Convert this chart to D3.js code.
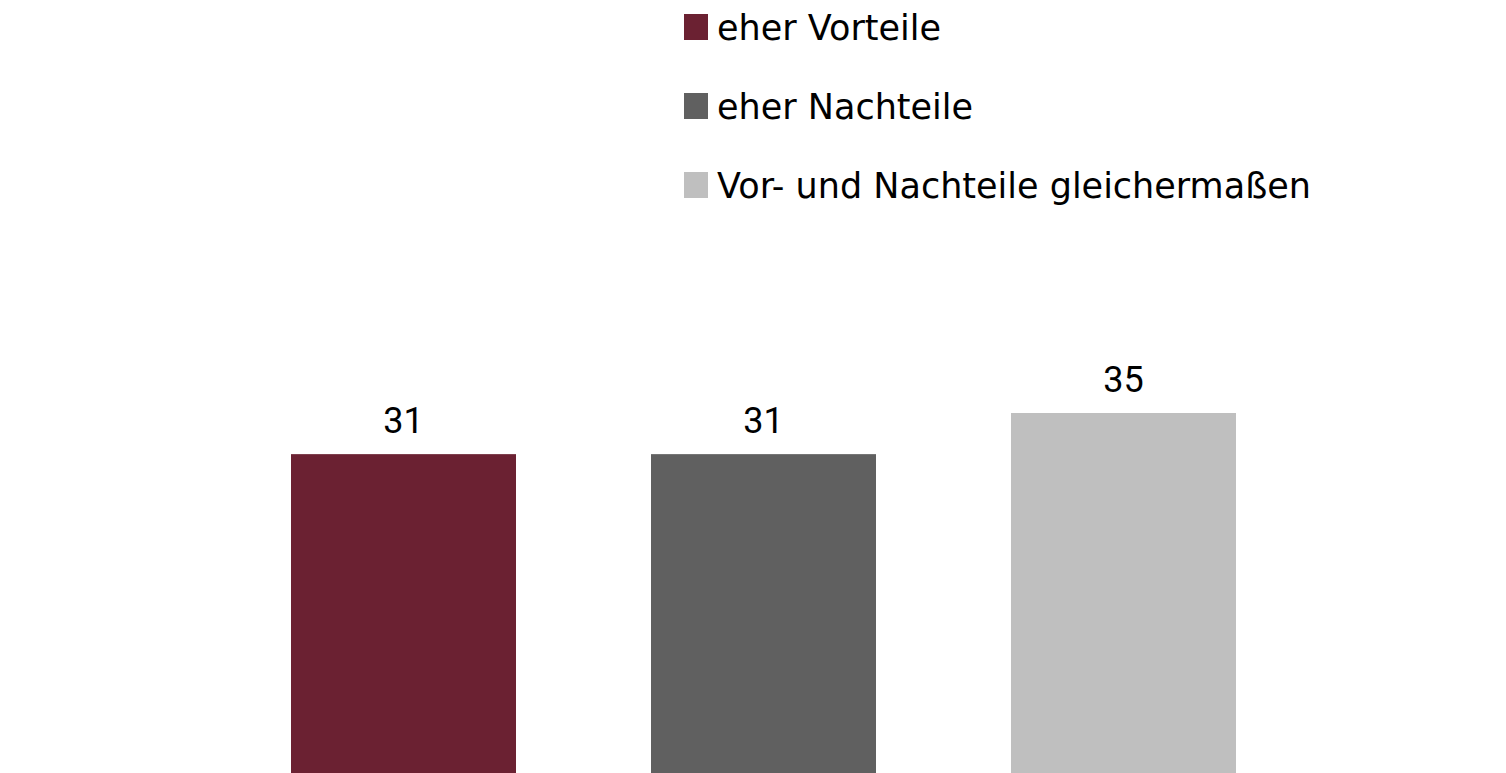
<!DOCTYPE html>
<html>
<head>
<meta charset="utf-8">
<script src="https://cdn.jsdelivr.net/npm/d3@7"></script>
<style>
  html, body { margin: 0; padding: 0; background: #fff; }
  svg { display: block; }
</style>
</head>
<body>
<div id="chart"></div>
<script>
const categories = ["eher Vorteile", "eher Nachteile", "Vor- und Nachteile gleichermaßen"];
const values = [31, 31, 35];
const colors = ["#6b2132", "#606060", "#bfbfbf"];

const width = 1506;
const height = 773;

const svg = d3.select('#chart')
  .append('svg')
  .attr('width', width)
  .attr('height', height);

// Scales
const x = d3.scaleBand()
  .domain(categories)
  .range([223.5, 1303.5])
  .paddingInner(0.375)
  .paddingOuter(0.1875);

const y = d3.scaleLinear()
  .domain([0, 35])
  .range([773, 413]);

const color = d3.scaleOrdinal()
  .domain(categories)
  .range(colors);

const data = categories.map((c, i) => ({ cat: c, value: values[i] }));

// Bars
svg.append('g')
  .selectAll('rect')
  .data(data)
  .enter().append('rect')
  .attr('x', d => x(d.cat))
  .attr('y', d => y(d.value))
  .attr('width', x.bandwidth())
  .attr('height', d => y(0) - y(d.value))
  .attr('fill', d => color(d.cat));

// Value labels
svg.append('g')
  .selectAll('text')
  .data(data)
  .enter().append('text')
  .attr('x', d => x(d.cat) + x.bandwidth() / 2)
  .attr('y', d => y(d.value) - 21)
  .attr('text-anchor', 'middle')
  .style('font-family', 'Roboto, "Liberation Sans", sans-serif')
  .style('font-size', '36px')
  .attr('fill', '#000')
  .text(d => d.value);

// Legend
const legend = svg.append('g')
  .attr('transform', 'translate(684, 0)');

const legendRow = d3.scalePoint()
  .domain(categories)
  .range([40, 198]);

const rows = legend.selectAll('g')
  .data(categories)
  .enter().append('g')
  .attr('transform', d => `translate(0, ${legendRow(d)})`);

rows.append('rect')
  .attr('x', 0)
  .attr('y', -26)
  .attr('width', 24)
  .attr('height', 26)
  .attr('fill', d => color(d));

rows.append('text')
  .attr('x', 33)
  .attr('y', 0)
  .style('font-family', '"DejaVu Sans", Verdana, sans-serif')
  .style('font-size', '35px')
  .attr('fill', '#000')
  .text(d => d);
</script>
</body>
</html>
